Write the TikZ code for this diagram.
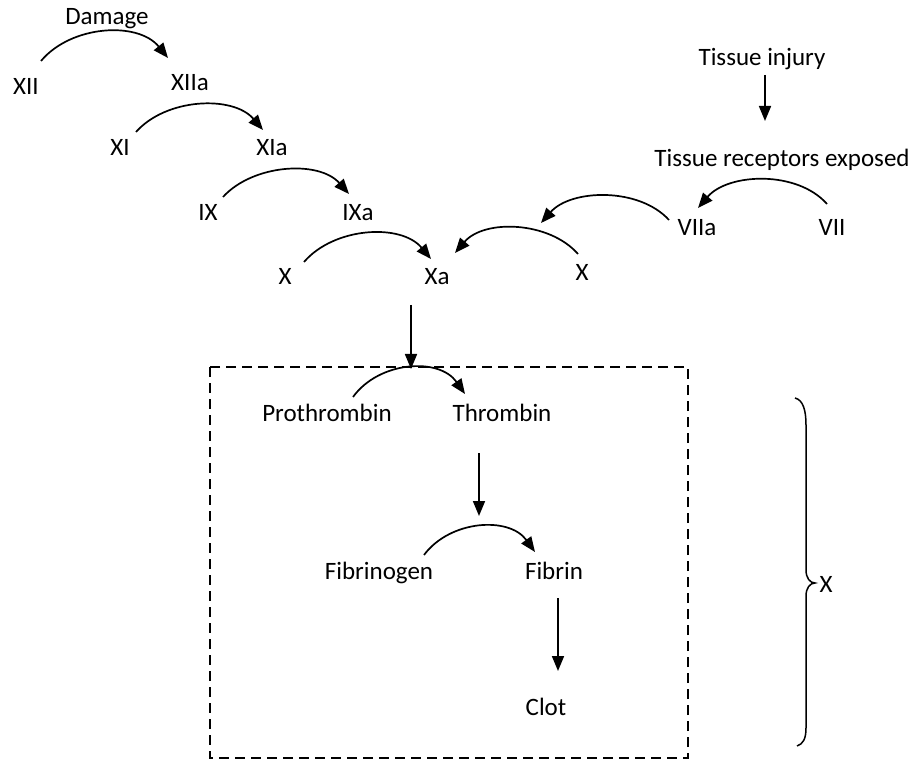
\documentclass[tikz,border=0pt]{standalone}
\usepackage{fontspec}
\setmainfont{Carlito}
\usetikzlibrary{arrows.meta}
\begin{document}
\begin{tikzpicture}[x=1pt,y=-1pt,
  lbl/.style={anchor=base,inner sep=0pt,font=\fontsize{25}{30}\selectfont},
  arr/.style={line width=1.7pt,-{Triangle[length=15pt,width=12pt]}},
  boxline/.style={line width=1.9pt,dash pattern=on 10pt off 6pt}]
\useasboundingbox (0,0) rectangle (916,759);
% labels
\node[lbl] (dmg) at (107,25) {Damage};
\node[lbl] (xii) at (26,95) {XII};
\node[lbl] (xiia) at (190,91) {XIIa};
\node[lbl] (xi) at (120,156) {XI};
\node[lbl] (xia) at (272,156) {XIa};
\node[lbl] (ix) at (208,221) {IX};
\node[lbl] (ixa) at (358,221) {IXa};
\node[lbl] (xl) at (285,285) {X};
\node[lbl] (xa) at (437,285) {Xa};
\node[lbl] (xr) at (582,281) {X};
\node[lbl] (viia) at (697,236) {VIIa};
\node[lbl] (vii) at (832,236) {VII};
\node[lbl] (tinj) at (762,66) {Tissue injury};
\node[lbl] (trec) at (782,167) {Tissue receptors exposed};
\node[lbl] (pro) at (327,421) {Prothrombin};
\node[lbl] (thr) at (502,421) {Thrombin};
\node[lbl] (fbg) at (379,579) {Fibrinogen};
\node[lbl] (fib) at (554,579) {Fibrin};
\node[lbl] (clot) at (546,715) {Clot};
\node[lbl] (xb) at (826,592) {X};
% arc end points
\coordinate (a1s) at (41,61);   \coordinate (a1e) at (168,58);
\coordinate (a2s) at (136,132); \coordinate (a2e) at (263,130);
\coordinate (a3s) at (223,197); \coordinate (a3e) at (349,194);
\coordinate (a4s) at (304,262); \coordinate (a4e) at (431,259);
\coordinate (a5s) at (578,254); \coordinate (a5e) at (455,253);
\coordinate (a6s) at (669,220); \coordinate (a6e) at (541,223);
\coordinate (a7s) at (827,204); \coordinate (a7e) at (698,208);
\coordinate (a8s) at (353,397); \coordinate (a8e) at (465,394);
\coordinate (a9s) at (424,555); \coordinate (a9e) at (535,552);
\draw[arr] (a1s) .. controls (71,25) and (138,21) .. (a1e);
\draw[arr] (a2s) .. controls (166,98) and (233,95) .. (a2e);
\draw[arr] (a3s) .. controls (253,164) and (319,160) .. (a3e);
\draw[arr] (a4s) .. controls (334,227) and (401,223) .. (a4e);
\draw[arr] (a5s) .. controls (549,221) and (484,219) .. (a5e);
\draw[arr] (a6s) .. controls (639,187) and (571,189) .. (a6e);
\draw[arr] (a7s) .. controls (797,170) and (728,173) .. (a7e);
\draw[arr] (a8s) .. controls (379,361) and (439,357) .. (a8e);
\draw[arr] (a9s) .. controls (450,520) and (509,516) .. (a9e);
% straight arrows
\coordinate (s1s) at (765,75);  \coordinate (s1e) at (765,121);
\coordinate (s2s) at (411,305); \coordinate (s2e) at (411,369);
\coordinate (s3s) at (479,453); \coordinate (s3e) at (479,516);
\coordinate (s4s) at (558,598); \coordinate (s4e) at (558,671);
\draw[arr] (s1s) -- (s1e);
\draw[arr] (s2s) -- (s2e);
\draw[arr] (s3s) -- (s3e);
\draw[arr] (s4s) -- (s4e);
% dashed box
\draw[boxline] (210,367) rectangle (688,758);
% brace
\draw[line width=1.5pt] (795,398) .. controls (803,400) and (806,410) .. (806,425)
  -- (806,570) .. controls (806,578) and (810,583) .. (815,583)
  .. controls (810,583) and (806,588) .. (806,596)
  -- (806,728) .. controls (806,739) and (803,744) .. (797,746);
\end{tikzpicture}
\end{document}
